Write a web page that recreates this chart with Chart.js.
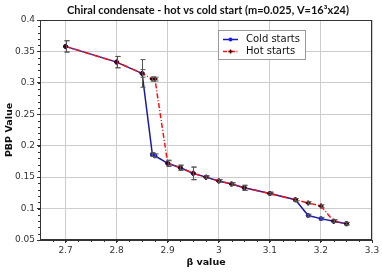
<!DOCTYPE html>
<html><head><meta charset="utf-8">
<script src="https://cdn.jsdelivr.net/npm/chart.js@4.4.0/dist/chart.umd.min.js"></script>
<style>html,body{margin:0;padding:0;background:#fff}#w{width:382px;height:272px}</style>
</head><body><div id="w"><canvas id="c"></canvas></div>
<script>
const titleText = 'Chiral condensate - hot vs cold start (m=0.025, V=16\u00b3x24)';
const beta = [2.7, 2.8, 2.85, 2.87, 2.875, 2.9, 2.925, 2.95, 2.975, 3.0, 3.025, 3.05, 3.1, 3.15, 3.175, 3.2, 3.225, 3.25];
const coldVals = [0.358, 0.333, 0.315, 0.186, 0.184, 0.172, 0.165, 0.156, 0.150, 0.144, 0.139, 0.133, 0.124, 0.114, 0.089, 0.084, 0.080, 0.076];
const hotVals  = [0.358, 0.333, 0.315, 0.306, 0.306, 0.172, 0.165, 0.156, 0.150, 0.144, 0.139, 0.133, 0.124, 0.114, 0.109, 0.104, 0.080, 0.076];
const coldErr = [0.009, 0.009, 0.022, 0.003, 0.003, 0.004, 0.004, 0.010, 0.002, 0.002, 0.002, 0.004, 0.002, 0.002, 0.002, 0.002, 0.002, 0.002];
const hotErr  = [0.009, 0.009, 0.006, 0.003, 0.003, 0.005, 0.004, 0.010, 0.002, 0.002, 0.002, 0.004, 0.002, 0.002, 0.002, 0.002, 0.002, 0.002];
const xTicks = [2.7, 2.8, 2.9, 3.0, 3.1, 3.2, 3.3];
const yTicks = [0.05, 0.1, 0.15, 0.2, 0.25, 0.3, 0.35, 0.4];
const seriesNames = ['Cold starts', 'Hot starts'];
const errs = [coldErr, hotErr];

const FONT = 'DejaVu Sans';
const TFONT = 'Lato';
const errPlugin = {
  id: 'errbars',
  afterDatasetsDraw(chart) {
    const ctx = chart.ctx, xs = chart.scales.x, ys = chart.scales.y;
    ctx.save();
    ctx.strokeStyle = '#555'; ctx.lineWidth = 1;
    chart.data.datasets.forEach((ds, di) => {
      ds.data.forEach((p, i) => {
        const e = errs[di][i];
        const px = Math.round(xs.getPixelForValue(p.x)) + 0.5;
        const y1 = ys.getPixelForValue(p.y + e), y2 = ys.getPixelForValue(p.y - e);
        ctx.beginPath();
        ctx.moveTo(px, y1); ctx.lineTo(px, y2);
        ctx.moveTo(px - 2, y1); ctx.lineTo(px + 3, y1);
        ctx.moveTo(px - 2, y2); ctx.lineTo(px + 3, y2);
        ctx.stroke();
      });
    });
    ctx.restore();
  }
};
const framePlugin = {
  id: 'frame',
  afterDraw(chart) {
    const ctx = chart.ctx, a = chart.chartArea, xs = chart.scales.x, ys = chart.scales.y;
    ctx.save();
    // title centred over plot area
    ctx.fillStyle = '#111';
    ctx.font = 'bold 11px "' + TFONT + '"';
    ctx.textAlign = 'center'; ctx.textBaseline = 'middle';
    ctx.fillText(titleText, (a.left + a.right) / 2 + 2, 10);
    ctx.strokeStyle = '#333'; ctx.lineWidth = 1;
    ctx.strokeRect(Math.round(a.left) + 0.5, Math.round(a.top) + 0.5, Math.round(a.right - a.left) - 1, Math.round(a.bottom - a.top) - 1);
    // minor ticks
    ctx.beginPath();
    for (let v = 0.05; v <= 0.4001; v += 0.01) {
      const py = Math.round(ys.getPixelForValue(v)) + 0.5;
      ctx.moveTo(a.left, py); ctx.lineTo(a.left - 2, py);
    }
    for (let v = 2.675; v <= 3.3001; v += 0.025) {
      const px = Math.round(xs.getPixelForValue(v)) + 0.5;
      ctx.moveTo(px, a.bottom); ctx.lineTo(px, a.bottom + 2);
    }
    ctx.stroke();
    // legend
    const lx = 218, ly = 30, lw = 87, lh = 29;
    ctx.fillStyle = '#fff';
    ctx.fillRect(lx + 0.5, ly + 0.5, lw, lh);
    ctx.strokeStyle = '#999';
    ctx.strokeRect(lx + 0.5, ly + 0.5, lw, lh);
    const ds = chart.data.datasets;
    [0, 1].forEach(i => {
      const yy = ly + 9.5 + i * 12;
      ctx.strokeStyle = ds[i].borderColor; ctx.lineWidth = 1.5;
      ctx.setLineDash(i === 1 ? [4, 1.5, 1, 1.5] : []);
      ctx.beginPath(); ctx.moveTo(lx + 5, yy); ctx.lineTo(lx + 20, yy); ctx.stroke();
      ctx.setLineDash([]);
      if (i === 0) {
        ctx.fillStyle = ds[0].pointBackgroundColor;
        ctx.beginPath(); ctx.arc(lx + 12.5, yy, 2, 0, Math.PI * 2); ctx.fill();
      } else {
        ctx.strokeStyle = '#500'; ctx.lineWidth = 1.5;
        ctx.beginPath(); ctx.moveTo(lx + 10.5, yy); ctx.lineTo(lx + 14.5, yy);
        ctx.moveTo(lx + 12.5, yy - 2); ctx.lineTo(lx + 12.5, yy + 2); ctx.stroke();
      }
      ctx.fillStyle = '#111'; ctx.font = '10px "' + FONT + '"';
      ctx.textBaseline = 'middle'; ctx.textAlign = 'left';
      ctx.fillText(seriesNames[i], lx + 28, yy);
    });
    ctx.restore();
  }
};

new Chart(document.getElementById('c'), {
  type: 'line',
  data: {
    datasets: [
      {
        label: seriesNames[0],
        data: beta.map((b, i) => ({ x: b, y: coldVals[i] })),
        borderColor: '#1a1aa6', backgroundColor: '#1a1aa6',
        pointBackgroundColor: '#1a1aff', pointBorderColor: '#1a1aa6',
        pointRadius: 2, pointBorderWidth: 1, borderWidth: 1.5, tension: 0, order: 1
      },
      {
        label: seriesNames[1],
        data: beta.map((b, i) => ({ x: b, y: hotVals[i] })),
        borderColor: '#ff1010', backgroundColor: '#ff1010',
        borderDash: [5, 2, 1, 2],
        pointStyle: 'cross', pointRadius: 2.5, pointBorderColor: '#4a0000', pointBorderWidth: 2,
        borderWidth: 1.5, tension: 0, order: 0
      }
    ]
  },
  options: {
    responsive: true, maintainAspectRatio: false, animation: false,
    layout: { padding: { left: 0, right: 10, top: 20, bottom: 0 } },
    plugins: {
      legend: { display: false },
      tooltip: { enabled: false },
      title: { display: false }
    },
    scales: {
      x: {
        type: 'linear', min: 2.65, max: 3.3,
        afterBuildTicks: s => { s.ticks = xTicks.map(v => ({ value: v })); },
        afterFit: s => { s.height = 32; },
        ticks: { color: '#333', font: { family: FONT, size: 9 }, padding: 2, callback: v => String(Math.round(v * 10) / 10) },
        grid: { color: '#cccccc', tickLength: 3, tickColor: '#333', drawTicks: true },
        border: { display: true, color: '#333' },
        title: { display: true, text: '\u03b2 value', color: '#111', font: { family: FONT, size: 9.5, weight: 'bold', lineHeight: 1.2 }, padding: { top: 0, bottom: 4 } }
      },
      y: {
        type: 'linear', min: 0.05, max: 0.4,
        afterBuildTicks: s => { s.ticks = yTicks.map(v => ({ value: v })); },
        afterFit: s => { s.width = 40; },
        ticks: { color: '#333', font: { family: FONT, size: 9 }, padding: 2, callback: v => String(Math.round(v * 100) / 100) },
        grid: { color: '#cccccc', tickLength: 3, tickColor: '#333' },
        border: { display: true, color: '#333' },
        title: { display: true, text: 'PBP Value', color: '#111', font: { family: FONT, size: 9.5, weight: 'bold', lineHeight: 1.2 }, padding: { top: 4, bottom: 0 } }
      }
    }
  },
  plugins: [errPlugin, framePlugin]
});
</script></body></html>
